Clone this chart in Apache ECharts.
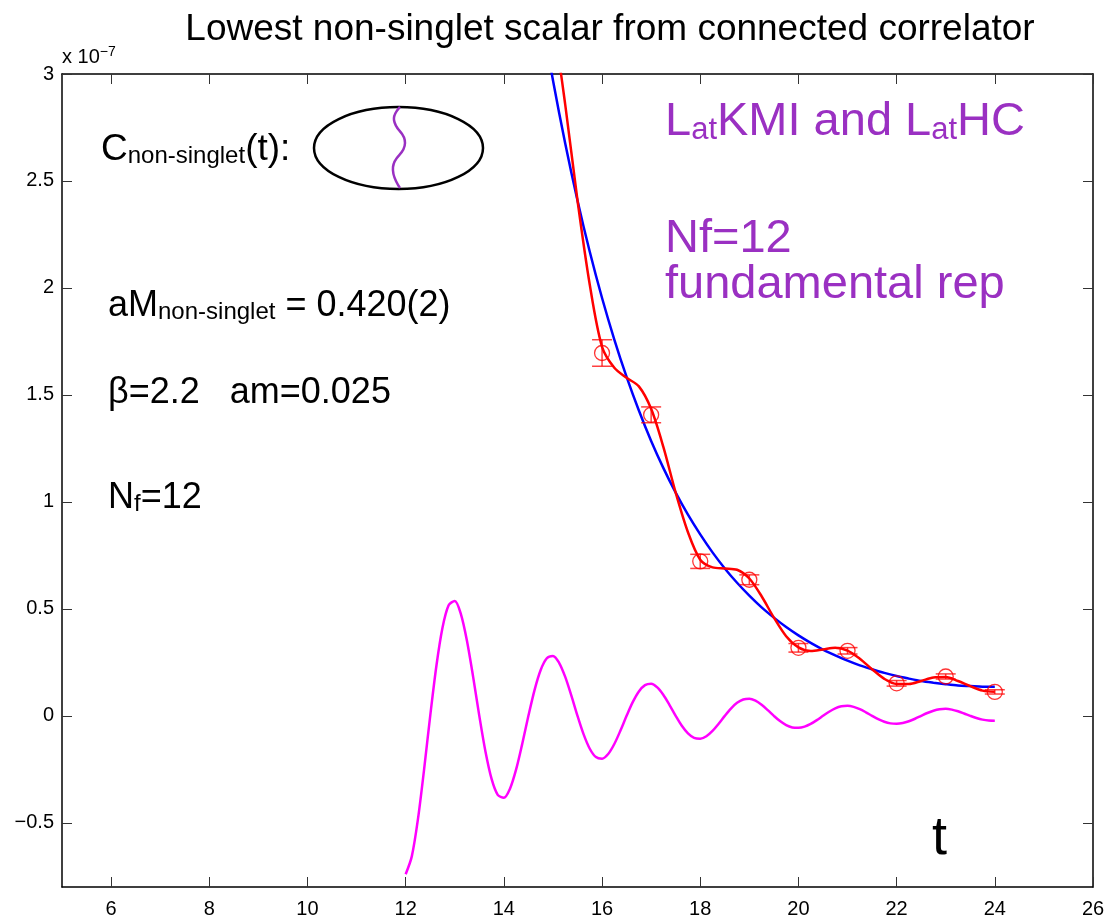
<!DOCTYPE html>
<html>
<head>
<meta charset="utf-8">
<script src="https://cdn.jsdelivr.net/npm/echarts@6/dist/echarts.min.js"></script>
<style>
html,body{margin:0;padding:0;background:#fff;}
#chart{width:1111px;height:921px;}
</style>
</head>
<body>
<div id="chart"></div>
<script>
// ---- data (values in units of 1e-7) ----
const xTicks = [6, 8, 10, 12, 14, 16, 18, 20, 22, 24, 26];
const yTicks = [-0.5, 0, 0.5, 1, 1.5, 2, 2.5, 3];

// measured correlator points
const pointT = [16, 17, 18, 19, 20, 21, 22, 23, 24];
const pointV = [1.696, 1.407, 0.722, 0.636, 0.318, 0.304, 0.152, 0.184, 0.112];
const pointErr = [0.062, 0.037, 0.033, 0.023, 0.020, 0.015, 0.013, 0.012, 0.010];

// fit curves (red: full fit, blue: single-state fit)
const fitT = [14.75, 15, 15.25, 15.5, 15.75, 16, 16.25, 16.5, 16.75, 17, 17.25, 17.5, 17.75,
  18, 18.25, 18.5, 18.75, 19, 19.25, 19.5, 19.75, 20, 20.25, 20.5, 20.75, 21, 21.25, 21.5,
  21.75, 22, 22.25, 22.5, 22.75, 23, 23.25, 23.5, 23.75, 24];
const redFit = [3.51, 3.25, 2.857, 2.409, 2.015, 1.725, 1.627, 1.58, 1.54, 1.435, 1.256, 1.043, 0.858,
  0.73, 0.694, 0.689, 0.683, 0.642, 0.559, 0.459, 0.372, 0.32, 0.303, 0.310, 0.318, 0.305, 0.267, 0.218,
  0.173, 0.149, 0.149, 0.163, 0.179, 0.181, 0.163, 0.139, 0.118, 0.113];
const blueFit = [3.298, 2.971, 2.675, 2.409, 2.169, 1.953, 1.759, 1.584, 1.427, 1.285, 1.158, 1.043, 0.940,
  0.848, 0.764, 0.689, 0.622, 0.562, 0.507, 0.459, 0.415, 0.376, 0.341, 0.310, 0.283, 0.258, 0.236, 0.218,
  0.201, 0.186, 0.174, 0.163, 0.155, 0.148, 0.142, 0.139, 0.136, 0.136];

// oscillating (parity partner) contribution, read every 1/8 in t
const oscT = [12, 12.125, 12.25, 12.375, 12.5, 12.625, 12.75, 12.875,
  13, 13.125, 13.25, 13.375, 13.5, 13.625, 13.75, 13.875,
  14, 14.125, 14.25, 14.375, 14.5, 14.625, 14.75, 14.875,
  15, 15.125, 15.25, 15.375, 15.5, 15.625, 15.75, 15.875,
  16, 16.125, 16.25, 16.375, 16.5, 16.625, 16.75, 16.875,
  17, 17.125, 17.25, 17.375, 17.5, 17.625, 17.75, 17.875,
  18, 18.125, 18.25, 18.375, 18.5, 18.625, 18.75, 18.875,
  19, 19.125, 19.25, 19.375, 19.5, 19.625, 19.75, 19.875,
  20, 20.125, 20.25, 20.375, 20.5, 20.625, 20.75, 20.875,
  21, 21.125, 21.25, 21.375, 21.5, 21.625, 21.75, 21.875,
  22, 22.125, 22.25, 22.375, 22.5, 22.625, 22.75, 22.875,
  23, 23.125, 23.25, 23.375, 23.5, 23.625, 23.75, 23.875, 24];
const oscV = [-0.74, -0.6568, -0.483, -0.2511, 0, 0.2318, 0.4114, 0.5165,
  0.537, 0.4756, 0.3489, 0.181, 0, -0.1664, -0.2947, -0.3691,
  -0.383, -0.3403, -0.2504, -0.1303, 0, 0.1205, 0.2141, 0.269,
  0.28, 0.248, 0.182, 0.0945, 0, -0.0868, -0.1538, -0.1927,
  -0.2, -0.1783, -0.1316, -0.0687, 0, 0.0639, 0.114, 0.1436,
  0.15, 0.1328, 0.0975, 0.0506, 0, -0.0465, -0.0823, -0.1031,
  -0.107, -0.0953, -0.0704, -0.0367, 0, 0.0341, 0.0608, 0.0766,
  0.08, 0.0707, 0.0517, 0.0268, 0, -0.0245, -0.0433, -0.0541,
  -0.056, -0.0506, -0.0379, -0.0201, 0, 0.0192, 0.0347, 0.0444,
  0.047, 0.0421, 0.0313, 0.0164, 0, -0.0155, -0.0278, -0.0352,
  -0.037, -0.0337, -0.0254, -0.0136, 0, 0.0132, 0.024, 0.0309,
  0.033, 0.0291, 0.0213, 0.011, 0, -0.0101, -0.0178, -0.0222, -0.023];

const zip = (a, b) => a.map((v, i) => [v, b[i]]);
const FONT = '"Liberation Sans", Arial, Helvetica, sans-serif';
const PURPLE = '#9a30c2';

const chart = echarts.init(document.getElementById('chart'), null, {renderer: 'canvas'});

const axisCommon = {
  axisLine: {show: true, onZero: false, lineStyle: {color: '#000', width: 1.5}},
  splitLine: {show: false},
};

const option = {
  backgroundColor: '#fff',
  animation: false,
  textStyle: {fontFamily: FONT},
  title: {
    text: 'Lowest non-singlet scalar from connected correlator',
    left: 605, top: 5, textAlign: 'center',
    textStyle: {fontFamily: FONT, fontSize: 37, fontWeight: 'normal', color: '#000', lineHeight: 40}
  },
  grid: {left: 62, right: 18, top: 74, bottom: 34, outerBoundsMode: 'none', containLabel: false},
  xAxis: [
    Object.assign({
      type: 'value', min: 5, max: 26, position: 'bottom',
      axisTick: {show: true, inside: true, length: 10, customValues: xTicks, lineStyle: {color: '#333', width: 1}},
      axisLabel: {show: true, customValues: xTicks, fontSize: 20, color: '#000', margin: 12, fontFamily: FONT}
    }, axisCommon),
    Object.assign({
      type: 'value', min: 5, max: 26, position: 'top',
      axisTick: {show: true, inside: true, length: 10, customValues: xTicks, lineStyle: {color: '#333', width: 1}},
      axisLabel: {show: false}
    }, axisCommon)
  ],
  yAxis: [
    Object.assign({
      type: 'value', min: -0.8, max: 3, position: 'left',
      axisTick: {show: true, inside: true, length: 10, customValues: yTicks, lineStyle: {color: '#333', width: 1}},
      axisLabel: {show: true, customValues: yTicks, fontSize: 20, color: '#000', margin: 8, fontFamily: FONT,
        formatter: v => (v < 0 ? '\u2212' + String(-v) : String(v))}
    }, axisCommon),
    Object.assign({
      type: 'value', min: -0.8, max: 3, position: 'right',
      axisTick: {show: true, inside: true, length: 10, customValues: yTicks, lineStyle: {color: '#333', width: 1}},
      axisLabel: {show: false}
    }, axisCommon)
  ],
  series: [
    {
      name: 'oscillating', type: 'line', data: zip(oscT, oscV), smooth: 0.3, showSymbol: false,
      lineStyle: {color: '#ff00ff', width: 2.5}, z: 2
    },
    {
      name: 'single fit', type: 'line', data: zip(fitT, blueFit), smooth: 0.3, showSymbol: false,
      lineStyle: {color: '#0000ff', width: 2.5}, z: 3
    },
    {
      name: 'errors', type: 'custom', data: pointT.map((t, i) => [t, pointV[i], pointErr[i]]), z: 4,
      renderItem: function (params, api) {
        const t = api.value(0), v = api.value(1), e = api.value(2);
        const hi = api.coord([t, v + e]);
        const lo = api.coord([t, v - e]);
        const w = 10;
        const st = {stroke: 'rgba(255,0,0,0.75)', lineWidth: 1.5};
        return {
          type: 'group',
          children: [
            {type: 'line', shape: {x1: hi[0], y1: hi[1], x2: lo[0], y2: lo[1]}, style: st},
            {type: 'line', shape: {x1: hi[0] - w, y1: hi[1], x2: hi[0] + w, y2: hi[1]}, style: st},
            {type: 'line', shape: {x1: lo[0] - w, y1: lo[1], x2: lo[0] + w, y2: lo[1]}, style: st}
          ]
        };
      }
    },
    {
      name: 'points', type: 'scatter', data: zip(pointT, pointV), symbol: 'circle', symbolSize: 15,
      itemStyle: {color: 'rgba(0,0,0,0)', borderColor: '#ff0000', borderWidth: 1.3}, z: 5
    },
    {
      name: 'full fit', type: 'line', data: zip(fitT, redFit), smooth: 0.3, showSymbol: false,
      lineStyle: {color: '#ff0000', width: 2.5}, z: 6
    }
  ],
  graphic: [
    // exponent
    {type: 'text', left: 62, top: 45, z: 10, style: {
      text: '{a|x 10}{b|\u22127}',
      rich: {a: {fontSize: 20, lineHeight: 22, fontFamily: FONT, verticalAlign: 'bottom'},
             b: {fontSize: 14, lineHeight: 6, fontFamily: FONT, verticalAlign: 'top'}},
      fill: '#000'}},
    // C_non-singlet(t):
    {type: 'text', left: 101, top: 131, z: 10, style: {
      text: '{a|C}{b|non-singlet}{a|(t):}',
      rich: {a: {fontSize: 37, lineHeight: 40, fontFamily: FONT, verticalAlign: 'bottom'},
             b: {fontSize: 24, lineHeight: 31, fontFamily: FONT, verticalAlign: 'bottom'}},
      fill: '#000'}},
    // diagram
    {type: 'ellipse', shape: {cx: 398.5, cy: 148, rx: 84.5, ry: 41}, z: 10,
      style: {fill: 'none', stroke: '#000', lineWidth: 2.5}},
    {type: 'polyline', z: 11, shape: {points: [[400, 107], [394, 120], [405, 143], [393, 167], [400, 188]], smooth: 0.5},
      style: {fill: 'none', stroke: PURPLE, lineWidth: 2.5}},
    // aM_non-singlet
    {type: 'text', left: 108, top: 288, z: 10, style: {
      text: '{a|aM}{b|non-singlet}{a| = 0.420(2)}',
      rich: {a: {fontSize: 36, lineHeight: 40, fontFamily: FONT, verticalAlign: 'bottom'},
             b: {fontSize: 24, lineHeight: 28, fontFamily: FONT, verticalAlign: 'bottom'}},
      fill: '#000'}},
    {type: 'text', left: 108, top: 375, z: 10, style: {
      text: '{a|\u03b2=2.2   am=0.025}',
      rich: {a: {fontSize: 36, lineHeight: 40, fontFamily: FONT, verticalAlign: 'bottom'}},
      fill: '#000'}},
    {type: 'text', left: 108, top: 480, z: 10, style: {
      text: '{a|N}{b|f}{a|=12}',
      rich: {a: {fontSize: 36, lineHeight: 40, fontFamily: FONT, verticalAlign: 'bottom'},
             b: {fontSize: 24, lineHeight: 27, fontFamily: FONT, verticalAlign: 'bottom'}},
      fill: '#000'}},
    // purple labels
    {type: 'text', left: 665, top: 99, z: 10, style: {
      text: '{a|L}{b|at}{a|KMI and L}{b|at}{a|HC}',
      rich: {a: {fontSize: 47, lineHeight: 52, fontFamily: FONT, verticalAlign: 'bottom'},
             b: {fontSize: 31, lineHeight: 31, fontFamily: FONT, verticalAlign: 'bottom'}},
      fill: PURPLE}},
    {type: 'text', left: 665, top: 216, z: 10, style: {
      text: '{a|Nf=12}',
      rich: {a: {fontSize: 47, lineHeight: 52, fontFamily: FONT, verticalAlign: 'bottom'}},
      fill: PURPLE}},
    {type: 'text', left: 665, top: 262, z: 10, style: {
      text: '{a|fundamental rep}',
      rich: {a: {fontSize: 47, lineHeight: 52, fontFamily: FONT, verticalAlign: 'bottom'}},
      fill: PURPLE}},
    // axis variable
    {type: 'text', left: 932, top: 812, z: 10, style: {
      text: '{a|t}',
      rich: {a: {fontSize: 54, lineHeight: 60, fontFamily: FONT, verticalAlign: 'bottom'}},
      fill: '#000'}}
  ]
};
chart.setOption(option);
</script>
</body>
</html>
